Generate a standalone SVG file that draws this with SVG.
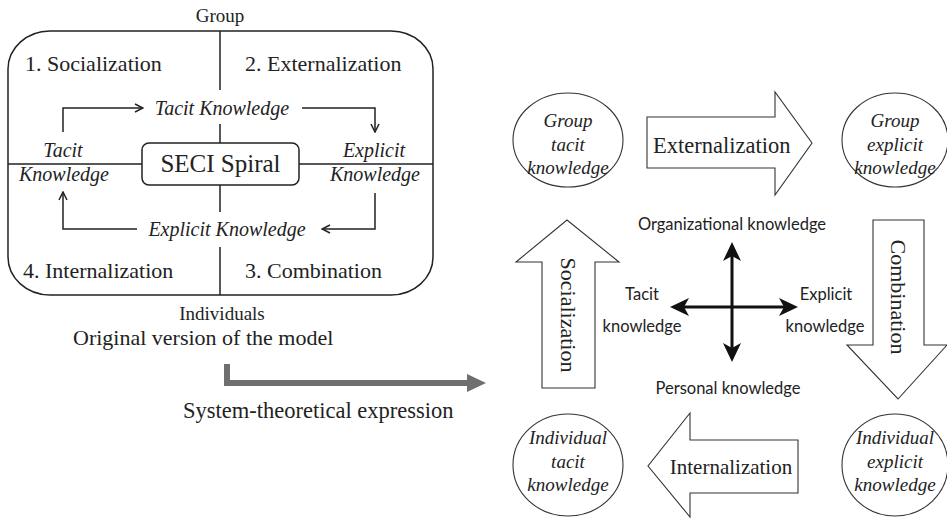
<svg xmlns="http://www.w3.org/2000/svg" width="947" height="519" viewBox="0 0 947 519">
<defs>
<style>
.serif{font-family:"Liberation Serif","Times New Roman",serif;fill:#222}
.it{font-style:italic}
.sans{font-family:Lato,"Open Sans","Liberation Sans",sans-serif;fill:#222;font-size:16.5px}
.ln{stroke:#222;stroke-width:1.5;fill:none}
.shape{stroke:#333;stroke-width:1.1;fill:#fff}
</style>
<marker id="open" viewBox="0 0 10 10" refX="9" refY="5" markerWidth="10" markerHeight="10" markerUnits="userSpaceOnUse" orient="auto">
<path d="M1,1 L9,5 L1,9" fill="none" stroke="#222" stroke-width="1.5"/>
</marker>
</defs>
<rect width="947" height="519" fill="#fff"/>

<g id="seci-model">
<path class="ln" d="M50,31 H391 A42,38 0 0 1 433,69 V257 A42,38 0 0 1 391,295 H50 A42,38 0 0 1 8,257 V69 A42,38 0 0 1 50,31 Z"/>
<path class="ln" d="M220,31 V90 M220,124 V143 M220,185 V212 M220,247 V295 M8,164 H142 M299,164 H433"/>
<text class="serif" x="220" y="22" font-size="19" text-anchor="middle">Group</text>
<text class="serif" x="25" y="71" font-size="22">1. Socialization</text>
<text class="serif" x="245" y="71" font-size="22">2. Externalization</text>
<text class="serif" x="23" y="278" font-size="22">4. Internalization</text>
<text class="serif" x="245" y="278" font-size="22">3. Combination</text>
<text class="serif it" x="222" y="115" font-size="20" text-anchor="middle">Tacit Knowledge</text>
<text class="serif it" x="227" y="236" font-size="20" text-anchor="middle">Explicit Knowledge</text>
<text class="serif it" x="63" y="157" font-size="20" text-anchor="middle">Tacit</text>
<text class="serif it" x="64" y="181" font-size="20" text-anchor="middle">Knowledge</text>
<text class="serif it" x="374" y="157" font-size="20" text-anchor="middle">Explicit</text>
<text class="serif it" x="375" y="181" font-size="20" text-anchor="middle">Knowledge</text>
<text class="serif" x="222" y="320" font-size="19" text-anchor="middle">Individuals</text>
<text class="serif" x="73" y="345" font-size="22">Original version of the model</text>
</g>

<g id="seci-spiral">
<rect class="ln" x="142" y="143" width="157" height="42" rx="7"/>
<text class="serif" x="220.5" y="172" font-size="25" text-anchor="middle">SECI Spiral</text>
</g>

<g id="connectors">
<path class="ln" d="M63,132 V108 H143" marker-end="url(#open)"/>
<path class="ln" d="M302,108 H375 V132" marker-end="url(#open)"/>
<path class="ln" d="M137,229 H63 V192" marker-end="url(#open)"/>
<path class="ln" d="M375,193 V229 H322" marker-end="url(#open)"/>
<path d="M227,364 V383 H470" fill="none" stroke="#6f6f6f" stroke-width="6"/>
<polygon points="467,374 486,383 467,392" fill="#6f6f6f"/>
<path d="M732,254 V350 M682,307 H786" stroke="#111" stroke-width="3" fill="none"/>
<polygon points="732,242 741,261 732,256 723,261" fill="#111"/>
<polygon points="732,362 741,343 732,348 723,343" fill="#111"/>
<polygon points="670,307 689,298 684,307 689,316" fill="#111"/>
<polygon points="798,307 779,298 784,307 779,316" fill="#111"/>
</g>

<text class="serif" x="183" y="418" font-size="22.5">System-theoretical expression</text>

<g id="group-tacit">
<ellipse class="shape" cx="568" cy="140" rx="55" ry="47"/>
<text class="serif it" x="568" y="127" font-size="19" text-anchor="middle">Group</text>
<text class="serif it" x="568" y="151" font-size="19" text-anchor="middle">tacit</text>
<text class="serif it" x="568" y="174" font-size="19" text-anchor="middle">knowledge</text>
</g>

<g id="group-explicit">
<ellipse class="shape" cx="895" cy="140" rx="53" ry="47"/>
<text class="serif it" x="895" y="127" font-size="19" text-anchor="middle">Group</text>
<text class="serif it" x="895" y="151" font-size="19" text-anchor="middle">explicit</text>
<text class="serif it" x="895" y="174" font-size="19" text-anchor="middle">knowledge</text>
</g>

<g id="individual-tacit">
<ellipse class="shape" cx="568" cy="465" rx="55" ry="51"/>
<text class="serif it" x="568" y="444" font-size="19" text-anchor="middle">Individual</text>
<text class="serif it" x="568" y="468" font-size="19" text-anchor="middle">tacit</text>
<text class="serif it" x="568" y="491" font-size="19" text-anchor="middle">knowledge</text>
</g>

<g id="individual-explicit">
<ellipse class="shape" cx="895" cy="465" rx="53" ry="51"/>
<text class="serif it" x="895" y="444" font-size="19" text-anchor="middle">Individual</text>
<text class="serif it" x="895" y="468" font-size="19" text-anchor="middle">explicit</text>
<text class="serif it" x="895" y="491" font-size="19" text-anchor="middle">knowledge</text>
</g>

<g id="externalization">
<polygon class="shape" points="647,117 775,117 775,92 812,143 775,195 775,168 647,168"/>
<text class="serif" x="653" y="153" font-size="22.5">Externalization</text>
</g>

<g id="combination">
<polygon class="shape" points="873,220 924,220 924,345 947,345 898,399 847,345 873,345"/>
<text class="serif" font-size="22" text-anchor="middle" transform="translate(891,297) rotate(90)">Combination</text>
</g>

<g id="internalization">
<polygon class="shape" points="798,440 690,440 690,413 648,466 690,517 690,493 798,493"/>
<text class="serif" x="731" y="474" font-size="21" text-anchor="middle">Internalization</text>
</g>

<g id="socialization">
<polygon class="shape" points="542,388 542,262 516,262 567,220 619,262 595,262 595,388"/>
<text class="serif" font-size="22" text-anchor="middle" transform="translate(561,315) rotate(90)">Socialization</text>
</g>

<g id="knowledge-axes">
<text class="sans" x="732" y="230" text-anchor="middle">Organizational knowledge</text>
<text class="sans" x="642" y="300" text-anchor="middle">Tacit</text>
<text class="sans" x="642" y="332" text-anchor="middle">knowledge</text>
<text class="sans" x="826" y="300" text-anchor="middle">Explicit</text>
<text class="sans" x="825" y="332" text-anchor="middle">knowledge</text>
<text class="sans" x="728" y="394" text-anchor="middle">Personal knowledge</text>
</g>
</svg>
